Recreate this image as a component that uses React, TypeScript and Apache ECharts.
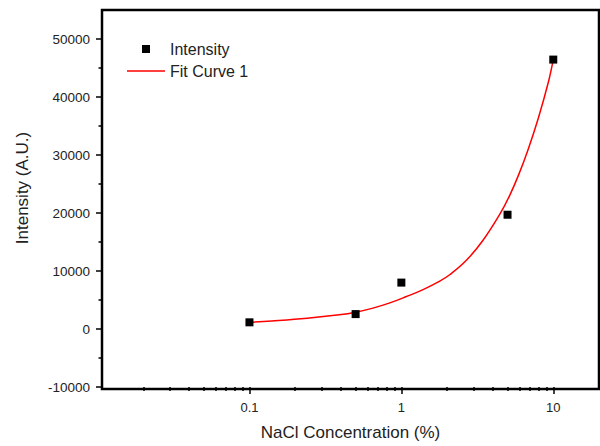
import React, { useEffect, useRef } from "react";
import * as echarts from "echarts";

// Measured data points
const pointX = [0.1, 0.5, 1, 5, 10];
const pointY = [1150, 2570, 8000, 19700, 46450];

// Fit curve
const fitX = [0.1, 0.14, 0.24, 0.39, 0.5, 0.65, 0.84, 1.08, 1.39, 1.79, 2.08, 2.68, 3.44, 4.43, 5.16, 5.94, 6.84, 7.96, 9.27, 10];
const fitY = [1150, 1380, 1850, 2450, 2900, 3600, 4500, 5600, 6800, 8250, 9350, 11850, 15250, 19700, 23000, 26700, 31000, 36300, 42500, 46450];

// Axis ticks
const xMajorTicks = [0.1, 1, 10];
const xMinorTicks = [0.02, 0.03, 0.04, 0.05, 0.06, 0.07, 0.08, 0.09, 0.2, 0.3, 0.4, 0.5, 0.6, 0.7, 0.8, 0.9, 2, 3, 4, 5, 6, 7, 8, 9];
const yMajorTicks = [-10000, 0, 10000, 20000, 30000, 40000, 50000];
const yMinorTicks = [-5000, 5000, 15000, 25000, 35000, 45000];

const X_MIN = 0.0107;
const X_MAX = 20;
const Y_MIN = -10000;
const Y_MAX = 55000;

const GRID = { left: 102, right: 1, top: 10, bottom: 57 };
const W = 600;
const H = 446;

const FONT = "'Liberation Sans', Arial, sans-serif";

export default function App() {
  const ref = useRef<HTMLDivElement>(null);
  useEffect(() => {
    if (!ref.current) return;
    const chart = echarts.init(ref.current, null, { renderer: "svg" });
    const labelStyle = { color: "#222", fontFamily: FONT, fontSize: 13.5 };
    const tickLine = { color: "#000", width: 1.5, opacity: 1 };
    chart.setOption({
      animation: false,
      backgroundColor: "#fff",
      textStyle: { fontFamily: FONT },
      grid: { ...GRID, show: false },
      legend: {
        orient: "vertical",
        left: 127,
        top: 41,
        padding: 0,
        itemWidth: 38,
        itemHeight: 14,
        itemGap: 6,
        textStyle: { color: "#222", fontFamily: FONT, fontSize: 16 },
        data: [
          { name: "Intensity", icon: "path://M0,0M38,14M15,3h8v8h-8z", itemStyle: { color: "#000", opacity: 1 } },
          { name: "Fit Curve 1", icon: "path://M0,0M38,14M0,6.25h38v1.5h-38z", itemStyle: { color: "#ff0000", opacity: 1 } },
        ],
      },
      xAxis: [
        {
          type: "log",
          min: X_MIN,
          max: X_MAX,
          position: "bottom",
          name: "NaCl Concentration (%)",
          nameLocation: "middle",
          nameGap: 37,
          nameTextStyle: { color: "#222", fontFamily: FONT, fontSize: 17 },
          axisLine: { show: false, onZero: false },
          axisTick: { show: true, inside: false, length: 7, customValues: xMajorTicks, lineStyle: tickLine },
          axisLabel: { show: true, margin: 14, customValues: xMajorTicks, ...labelStyle, fontSize: 13 },
          splitLine: { show: false },
          minorTick: { show: false },
          minorSplitLine: { show: false },
        },
        {
          type: "log",
          min: X_MIN,
          max: X_MAX,
          position: "bottom",
          axisLine: { show: false, onZero: false },
          axisTick: { show: true, inside: false, length: 4, customValues: xMinorTicks, lineStyle: tickLine },
          axisLabel: { show: false },
          splitLine: { show: false },
        },
      ],
      yAxis: [
        {
          type: "value",
          min: Y_MIN,
          max: Y_MAX,
          interval: 10000,
          position: "left",
          axisLine: { show: false, onZero: false },
          axisTick: { show: true, inside: false, length: 6, customValues: yMajorTicks, lineStyle: tickLine },
          axisLabel: {
            show: true,
            margin: 12,
            customValues: yMajorTicks,
            formatter: (v: number) => String(v),
            ...labelStyle,
          },
          splitLine: { show: false },
        },
        {
          type: "value",
          min: Y_MIN,
          max: Y_MAX,
          position: "left",
          axisLine: { show: false, onZero: false },
          axisTick: { show: true, inside: false, length: 3.5, customValues: yMinorTicks, lineStyle: tickLine },
          axisLabel: { show: false },
          splitLine: { show: false },
        },
      ],
      graphic: [
        {
          type: "rect",
          z: 10,
          silent: true,
          shape: { x: GRID.left, y: GRID.top, width: W - GRID.left - GRID.right, height: H - GRID.top - GRID.bottom },
          style: { fill: "none", stroke: "#000", lineWidth: 2.5 },
        },
        {
          type: "text",
          x: 22,
          y: 188,
          rotation: Math.PI / 2,
          style: {
            text: "Intensity (A.U.)",
            fill: "#222",
            font: `17px ${FONT}`,
            align: "center",
            verticalAlign: "middle",
          },
        },
      ],
      series: [
        {
          name: "Fit Curve 1",
          type: "line",
          xAxisIndex: 0,
          yAxisIndex: 0,
          data: fitX.map((x, i) => [x, fitY[i]]),
          smooth: 0.4,
          symbol: "none",
          lineStyle: { color: "#ff0000", width: 1.5 },
          itemStyle: { color: "#ff0000" },
          z: 2,
        },
        {
          name: "Intensity",
          type: "scatter",
          xAxisIndex: 0,
          yAxisIndex: 0,
          data: pointX.map((x, i) => [x, pointY[i]]),
          symbol: "rect",
          symbolSize: 8,
          itemStyle: { color: "#000", opacity: 1 },
          z: 3,
        },
      ],
    });
    return () => chart.dispose();
  }, []);
  return (
    <div
      ref={ref}
      style={{ position: "fixed", left: 0, top: 0, width: W, height: H, background: "#fff" }}
    />
  );
}
